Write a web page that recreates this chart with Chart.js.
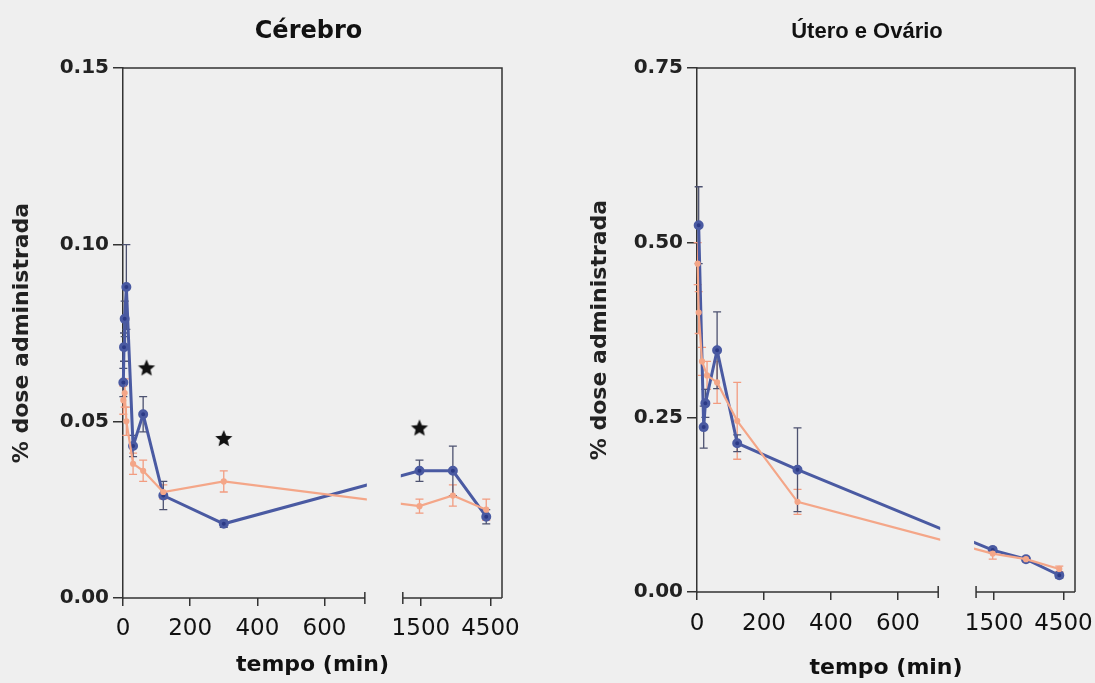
<!DOCTYPE html>
<html lang="pt">
<head>
<meta charset="utf-8">
<title>% dose administrada</title>
<script src="https://cdn.jsdelivr.net/npm/chart.js@4.4.1/dist/chart.umd.min.js"></script>
<style>
  html, body { margin: 0; background: #efefef; }
  #wrap { position: relative; width: 1095px; height: 683px; overflow: hidden; }
  #p1, #p2 { position: absolute; top: 0; }
  #p1 { left: 0; }
  #p2 { left: 547px; }
</style>
</head>
<body>
<div id="wrap">
  <div id="p1"><canvas id="chartCerebro" width="547" height="683"></canvas></div>
  <div id="p2"><canvas id="chartUtero" width="570" height="683"></canvas></div>
</div>
<script>
// Dados: tempo (min) x % dose administrada (média e erro)
const ticksTempo = [0, 200, 400, 600, 1500, 4500];

// Cérebro
const cerebroTempoAzul = [1, 3, 5, 10, 30, 60, 120, 300, 1440, 2880, 4320];
const cerebroAzul      = [0.061, 0.071, 0.079, 0.088, 0.043, 0.052, 0.029, 0.021, 0.036, 0.036, 0.023];
const cerebroErroAzul  = [0.004, 0.004, 0.005, 0.012, 0.003, 0.005, 0.004, 0.001, 0.003, 0.007, 0.002];
const cerebroTempoLaranja = [1, 5, 10, 30, 60, 120, 300, 1440, 2880, 4320];
const cerebroLaranja      = [0.056, 0.058, 0.050, 0.038, 0.036, 0.030, 0.033, 0.026, 0.029, 0.025];
const cerebroErroLaranja  = [0.004, 0.004, 0.004, 0.003, 0.003, 0.002, 0.003, 0.002, 0.003, 0.003];
const cerebroTempoEstrelas = [70, 300, 1440];
const cerebroEstrelas      = [0.065, 0.045, 0.048];
const cerebroTicksY = [0, 0.05, 0.10, 0.15];

// Útero e Ovário
const uteroTempoAzul = [5, 20, 25, 60, 120, 300, 1440, 2880, 4320];
const uteroAzul      = [0.525, 0.236, 0.27, 0.346, 0.213, 0.175, 0.060, 0.047, 0.024];
const uteroErroAzul  = [0.055, 0.03, 0.02, 0.055, 0.012, 0.06, 0.004, 0.003, 0.004];
const uteroTempoLaranja = [2, 5, 15, 30, 60, 120, 300, 1440, 2880, 4320];
const uteroLaranja      = [0.47, 0.40, 0.33, 0.31, 0.30, 0.245, 0.129, 0.055, 0.047, 0.033];
const uteroErroLaranja  = [0.03, 0.03, 0.02, 0.02, 0.03, 0.055, 0.018, 0.008, 0.004, 0.004];
const uteroTicksY = [0, 0.25, 0.50, 0.75];

// Eixo X quebrado: 0–720 min linear, depois 720–5000 min comprimido
const FIM_SEG1 = 720;
const INICIO_SEG2 = 833;
const FATOR_SEG2 = 0.069;
const TEMPO_MAX = 5000;
function eixoX(t) {
  return t <= FIM_SEG1 ? t : INICIO_SEG2 + (t - FIM_SEG1) * FATOR_SEG2;
}

const FUNDO = "#efefef";
const AZUL = "#4a5aa2";
const AZUL_PONTO = "#2c3a86";
const LARANJA = "#f4a688";

Chart.defaults.font.family = "'DejaVu Sans', sans-serif";
Chart.defaults.color = "#111";

// estrela preta cheia usada como pointStyle
function criarEstrela(r) {
  const c = document.createElement("canvas");
  c.width = c.height = r * 2 + 2;
  const g = c.getContext("2d");
  g.fillStyle = "#111";
  g.beginPath();
  for (let i = 0; i < 10; i++) {
    const ang = -Math.PI / 2 + i * Math.PI / 5;
    const rr = i % 2 === 0 ? r : r * 0.45;
    g.lineTo(r + 1 + rr * Math.cos(ang), r + 1 + rr * Math.sin(ang));
  }
  g.closePath();
  g.fill();
  return c;
}
const estrela = criarEstrela(9);

// barras de erro (desenhadas por baixo das linhas)
function desenharBarrasErro(chart) {
  const { ctx, scales: { x, y } } = chart;
  chart.data.datasets.forEach((ds) => {
    if (!ds.erros) return;
    ctx.save();
    ctx.strokeStyle = ds.corErro;
    ctx.lineWidth = 1.3;
    ds.data.forEach((p, j) => {
      const e = ds.erros[j];
      if (!e) return;
      const px = x.getPixelForValue(p.x);
      const topo = y.getPixelForValue(p.y + e);
      const base = y.getPixelForValue(p.y - e);
      ctx.beginPath();
      ctx.moveTo(px, topo); ctx.lineTo(px, base);
      ctx.moveTo(px - 4, topo); ctx.lineTo(px + 4, topo);
      ctx.moveTo(px - 4, base); ctx.lineTo(px + 4, base);
      ctx.stroke();
    });
    ctx.restore();
  });
}

const eixoQuebrado = {
  id: "eixoQuebrado",
  beforeDatasetsDraw(chart) {
    desenharBarrasErro(chart);
  },
  afterDatasetsDraw(chart) {
    const { ctx, chartArea: a, scales: { x } } = chart;
    const xa = x.getPixelForValue(FIM_SEG1);
    const xb = x.getPixelForValue(INICIO_SEG2);
    ctx.save();
    // esconde as linhas dentro da quebra
    ctx.fillStyle = FUNDO;
    ctx.fillRect(xa + 2, a.top + 1, xb - xa - 4, a.bottom - a.top + 1);
    ctx.strokeStyle = "#333";
    ctx.lineWidth = 1.5;
    ctx.beginPath();
    // moldura (topo e direita)
    ctx.moveTo(a.left, a.top); ctx.lineTo(a.right, a.top); ctx.lineTo(a.right, a.bottom);
    // eixo inferior em dois trechos
    ctx.moveTo(a.left, a.bottom); ctx.lineTo(xa, a.bottom);
    ctx.moveTo(xb, a.bottom); ctx.lineTo(a.right, a.bottom);
    // marcas da quebra
    ctx.moveTo(xa, a.bottom - 6); ctx.lineTo(xa, a.bottom + 6);
    ctx.moveTo(xb, a.bottom - 6); ctx.lineTo(xb, a.bottom + 6);
    ctx.stroke();
    ctx.restore();
  }
};

const tituloPainel = {
  id: "tituloPainel",
  afterDraw(chart, args, opts) {
    const { ctx, chartArea: a } = chart;
    ctx.save();
    ctx.font = opts.fonte;
    ctx.fillStyle = "#111";
    ctx.textAlign = "center";
    ctx.textBaseline = "middle";
    ctx.fillText(opts.texto, (a.left + a.right) / 2 + (opts.dx || 0), opts.y);
    ctx.restore();
  }
};

function pontos(tempos, valores) {
  return tempos.map((t, i) => ({ x: eixoX(t), y: valores[i] }));
}

function criarGrafico(id, c) {
  const datasets = [
    {
      label: "laranja",
      data: pontos(c.tempoLaranja, c.laranja),
      erros: c.erroLaranja,
      corErro: "#f29c80",
      borderColor: LARANJA,
      backgroundColor: LARANJA,
      borderWidth: 2.2,
      pointRadius: 2,
      showLine: true,
      clip: false,
    },
    {
      label: "azul",
      data: pontos(c.tempoAzul, c.azul),
      erros: c.erroAzul,
      corErro: "#4d5270",
      borderColor: AZUL,
      backgroundColor: AZUL_PONTO,
      borderWidth: 3,
      pointRadius: 3.5,
      showLine: true,
      clip: false,
    },
  ];
  if (c.tempoEstrelas) {
    datasets.push({
      label: "significância",
      data: pontos(c.tempoEstrelas, c.estrelas),
      pointStyle: estrela,
      showLine: false,
    });
  }

  return new Chart(document.getElementById(id), {
    type: "scatter",
    data: { datasets },
    options: {
      responsive: false,
      animation: false,
      devicePixelRatio: 1,
      layout: { padding: c.padding },
      plugins: {
        legend: { display: false },
        tooltip: { enabled: false },
        tituloPainel: { texto: c.titulo, fonte: c.fonteTitulo, dx: c.tituloDx, y: 32 },
      },
      scales: {
        x: {
          type: "linear",
          min: 0,
          max: eixoX(TEMPO_MAX),
          afterBuildTicks: (s) => { s.ticks = ticksTempo.map((t) => ({ value: eixoX(t) })); },
          afterFit: (s) => { s.height = c.alturaX; },
          ticks: {
            autoSkip: false,
            maxRotation: 0,
            padding: c.padX,
            font: { size: 23 },
            color: "#111",
            callback: (v, i) => String(ticksTempo[i]),
          },
          grid: { drawOnChartArea: false, tickLength: 8, color: "#333", lineWidth: 1.5 },
          border: { display: false },
          title: {
            display: true,
            text: "tempo (min)",
            font: { size: 22, weight: "bold" },
            color: "#111",
            padding: { top: 2, bottom: c.padTituloX },
          },
        },
        y: {
          min: 0,
          max: c.ticksY[c.ticksY.length - 1],
          afterBuildTicks: (s) => { s.ticks = c.ticksY.map((v) => ({ value: v })); },
          afterFit: (s) => { s.width = c.larguraY; },
          ticks: {
            padding: 4,
            font: { size: 20, weight: "bold" },
            color: "#222",
            callback: (v) => Number(v).toFixed(2),
          },
          grid: { drawOnChartArea: false, tickLength: 10, color: "#333", lineWidth: 1.5 },
          border: { display: true, color: "#333", width: 1.5 },
          title: {
            display: true,
            text: "% dose administrada",
            font: { size: 22, weight: "bold" },
            color: "#222",
            padding: { top: 9, bottom: 0 },
          },
        },
      },
    },
    plugins: [eixoQuebrado, tituloPainel],
  });
}

criarGrafico("chartCerebro", {
  titulo: "Cérebro",
  fonteTitulo: "bold 24px 'DejaVu Sans', sans-serif",
  tituloDx: -4,
  tempoAzul: cerebroTempoAzul, azul: cerebroAzul, erroAzul: cerebroErroAzul,
  tempoLaranja: cerebroTempoLaranja, laranja: cerebroLaranja, erroLaranja: cerebroErroLaranja,
  tempoEstrelas: cerebroTempoEstrelas, estrelas: cerebroEstrelas,
  ticksY: cerebroTicksY,
  padding: { left: 0, top: 68, right: 45, bottom: 0 },
  larguraY: 123,
  alturaX: 85,
  padX: 9,
  padTituloX: 5,
});

criarGrafico("chartUtero", {
  titulo: "Útero e Ovário",
  fonteTitulo: "bold 22px 'Liberation Sans Narrow', 'Liberation Sans', Arial, sans-serif",
  tituloDx: -19,
  tempoAzul: uteroTempoAzul, azul: uteroAzul, erroAzul: uteroErroAzul,
  tempoLaranja: uteroTempoLaranja, laranja: uteroLaranja, erroLaranja: uteroErroLaranja,
  ticksY: uteroTicksY,
  padding: { left: 31, top: 68, right: 42, bottom: 0 },
  larguraY: 119,
  alturaX: 91,
  padX: 10,
  padTituloX: 2,
});
</script>
</body>
</html>
